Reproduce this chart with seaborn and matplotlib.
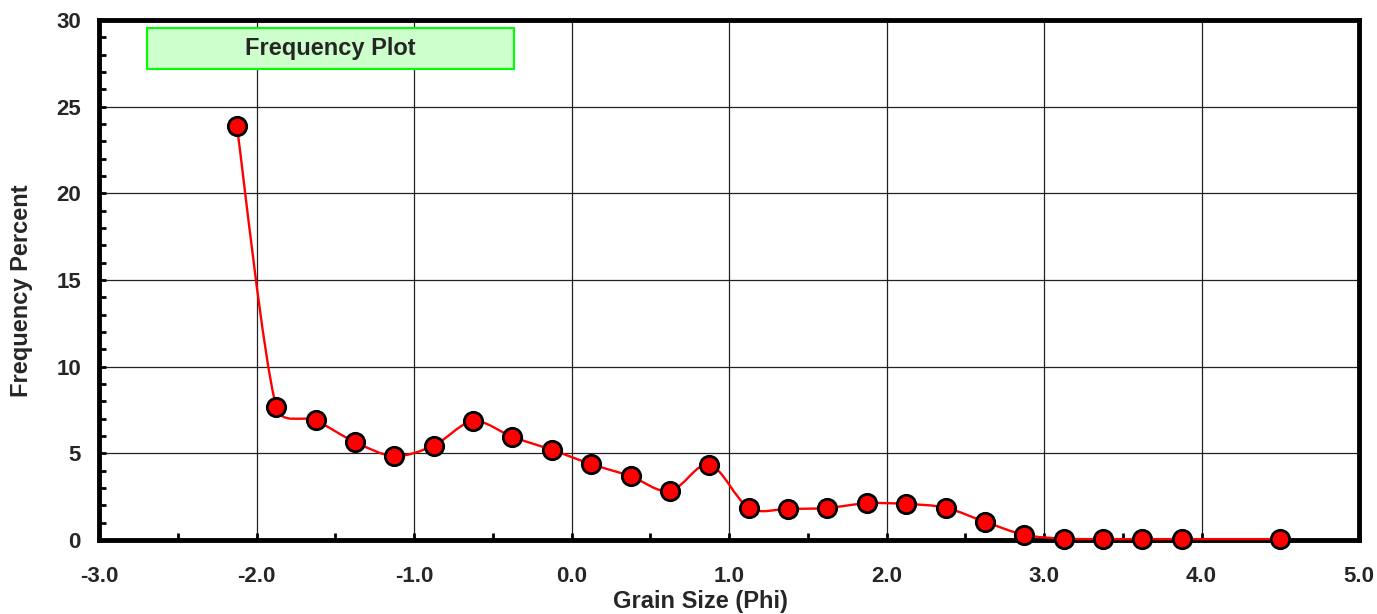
import numpy as np
import pandas as pd
import seaborn as sns
import matplotlib
matplotlib.use("Agg")
import matplotlib.pyplot as plt
from matplotlib.path import Path
from matplotlib.patches import PathPatch, Rectangle
from matplotlib.ticker import MultipleLocator, FormatStrFormatter

# ---- data ----
phi = [-2.125, -1.875, -1.625, -1.375, -1.125, -0.875, -0.625, -0.375, -0.125,
       0.125, 0.375, 0.625, 0.875, 1.125, 1.375, 1.625, 1.875, 2.125, 2.375,
       2.625, 2.875, 3.125, 3.375, 3.625, 3.875, 4.5]
freq = [23.9, 7.7, 6.9, 5.65, 4.85, 5.45, 6.85, 5.95, 5.2,
        4.38, 3.68, 2.82, 4.35, 1.87, 1.8, 1.85, 2.12, 2.08, 1.86,
        1.05, 0.3, 0.08, 0.05, 0.05, 0.05, 0.05]
title_text = "Frequency Plot"
x_label = "Grain Size (Phi)"
y_label = "Frequency Percent"

df = pd.DataFrame({"phi": phi, "freq": freq})

sns.set_theme(style="white")
plt.rcParams["font.family"] = ["Liberation Sans", "DejaVu Sans"]
plt.rcParams["font.weight"] = "bold"

fig = plt.figure(figsize=(13.77, 6.14), dpi=100)
ax = fig.add_axes([99 / 1377, 1 - 540 / 614, 1260 / 1377, 520 / 614])
ax.set_xlim(-3, 5)
ax.set_ylim(0, 30)

# smooth (Excel-like) bezier line computed in display space
pts = ax.transData.transform(np.column_stack([phi, freq]))
n = len(pts)
verts = [pts[0]]
codes = [Path.MOVETO]
for i in range(n - 1):
    p0 = pts[i - 1] if i > 0 else pts[i]
    p1 = pts[i]
    p2 = pts[i + 1]
    p3 = pts[i + 2] if i + 2 < n else pts[i + 1]
    d12 = np.hypot(*(p2 - p1))
    d02 = np.hypot(*(p2 - p0))
    d13 = np.hypot(*(p3 - p1))
    f1 = 1 / 6 if d02 / 6 < d12 / 2 else (d12 / (2 * d02) if d02 > 0 else 0)
    f2 = 1 / 6 if d13 / 6 < d12 / 2 else (d12 / (2 * d13) if d13 > 0 else 0)
    c1 = p1 + (p2 - p0) * f1
    c2 = p2 - (p3 - p1) * f2
    verts += [c1, c2, p2]
    codes += [Path.CURVE4] * 3
inv = ax.transData.inverted()
verts_data = inv.transform(np.array(verts))
patch = PathPatch(Path(verts_data, codes), facecolor="none", edgecolor="#FF0000",
                  lw=1.7, zorder=4, clip_on=False)
ax.add_patch(patch)

sns.scatterplot(data=df, x="phi", y="freq", ax=ax, s=175, color="#FF0000",
                edgecolor="black", linewidth=2.0, zorder=5, clip_on=False, legend=False)

# grid & ticks
ax.xaxis.set_major_locator(MultipleLocator(1.0))
ax.xaxis.set_minor_locator(MultipleLocator(0.5))
ax.yaxis.set_major_locator(MultipleLocator(5))
ax.yaxis.set_minor_locator(MultipleLocator(1))
ax.xaxis.set_major_formatter(FormatStrFormatter("%.1f"))
ax.yaxis.set_major_formatter(FormatStrFormatter("%d"))
ax.grid(True, which="major", color="#222222", lw=0.9)
ax.set_axisbelow(True)
ax.tick_params(which="both", direction="in", color="black", width=2,
               labelsize=16, top=False, right=False, bottom=True, left=True)
ax.tick_params(which="major", length=5)
ax.tick_params(which="minor", length=5)
ax.tick_params(axis="x", pad=19)
ax.tick_params(axis="y", pad=13)
for lab in ax.get_xticklabels() + ax.get_yticklabels():
    lab.set_fontweight("bold")

for sp in ax.spines.values():
    sp.set_visible(True)
    sp.set_color("black")
    sp.set_linewidth(3.5)

ax.set_xlabel(x_label, fontsize=17, fontweight="bold")
ax.set_ylabel(y_label, fontsize=17, fontweight="bold")
ax.xaxis.set_label_coords(0.477, -0.097)
ax.yaxis.set_label_coords(-0.052, 0.48)

# title box
x0 = (147 - 99) / 1260
x1 = (514 - 99) / 1260
y0 = (540 - 69) / 520
y1 = (540 - 28) / 520
ax.add_patch(Rectangle((x0, y0), x1 - x0, y1 - y0, transform=ax.transAxes,
                       facecolor="#CCFFCC", edgecolor="#00FF00", lw=1.5, zorder=6))
ax.text((x0 + x1) / 2, (y0 + y1) / 2, title_text, transform=ax.transAxes,
        ha="center", va="center", fontsize=17, fontweight="bold", zorder=7)

fig.savefig("out.png", dpi=100)
